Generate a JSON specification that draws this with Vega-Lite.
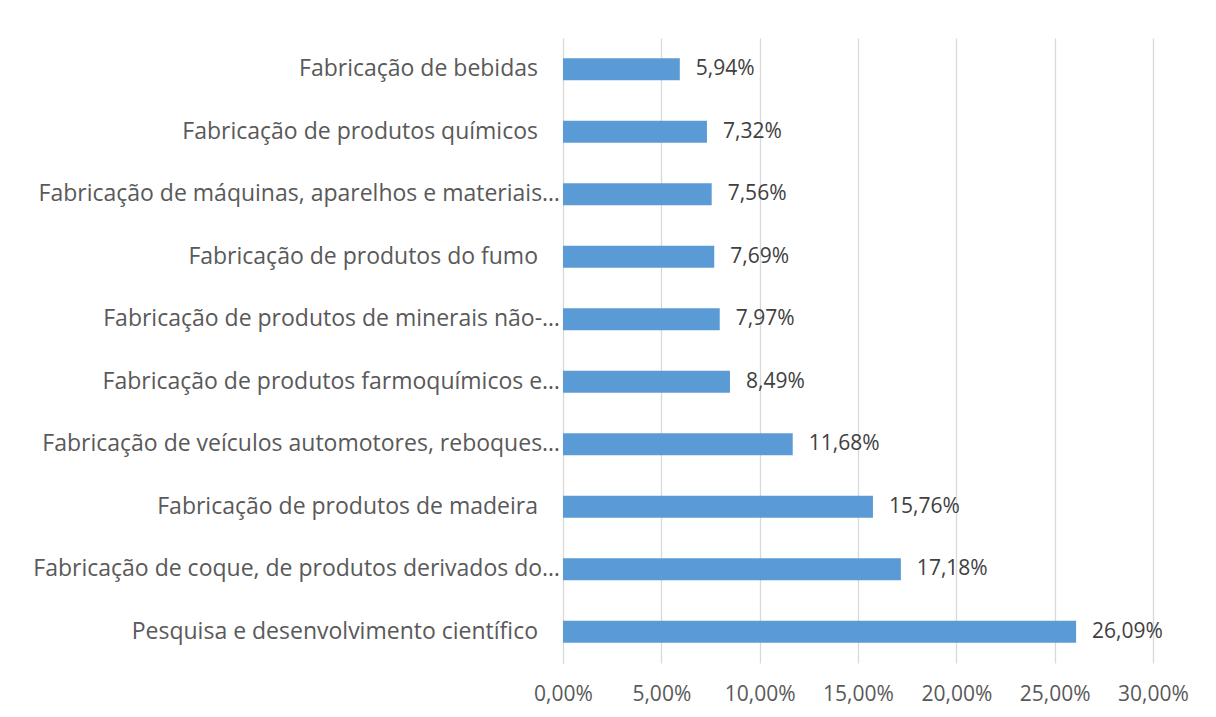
{
  "$schema": "https://vega.github.io/schema/vega-lite/v6.json",
  "width": 590,
  "height": 625,
  "autosize": {"type": "none"},
  "padding": {"left": 563, "top": 38, "right": 63, "bottom": 54},
  "background": "white",
  "config": {
    "locale": {"number": {"decimal": ",", "thousands": ".", "grouping": [3], "currency": ["R$", ""]}},
    "view": {"stroke": null},
    "font": "Open Sans"
  },
  "data": {
    "values": [
      {"setor": "Fabricação de bebidas", "valor": 0.0594},
      {"setor": "Fabricação de produtos químicos", "valor": 0.0732},
      {"setor": "Fabricação de máquinas, aparelhos e materiais…", "valor": 0.0756},
      {"setor": "Fabricação de produtos do fumo", "valor": 0.0769},
      {"setor": "Fabricação de produtos de minerais não-…", "valor": 0.0797},
      {"setor": "Fabricação de produtos farmoquímicos e…", "valor": 0.0849},
      {"setor": "Fabricação de veículos automotores, reboques…", "valor": 0.1168},
      {"setor": "Fabricação de produtos de madeira", "valor": 0.1576},
      {"setor": "Fabricação de coque, de produtos derivados do…", "valor": 0.1718},
      {"setor": "Pesquisa e desenvolvimento científico", "valor": 0.2609}
    ]
  },
  "encoding": {
    "y": {
      "field": "setor",
      "type": "nominal",
      "sort": null,
      "scale": {"paddingInner": 0.65, "paddingOuter": 0.325},
      "axis": {
        "title": null,
        "ticks": false,
        "labels": false,
        "domain": true,
        "domainColor": "#D9D9D9",
        "domainWidth": 1
      }
    }
  },
  "layer": [
    {
      "mark": {"type": "bar", "color": "#5B9BD5"},
      "encoding": {
        "x": {
          "field": "valor",
          "type": "quantitative",
          "scale": {"domain": [0, 0.3], "nice": false},
          "axis": {
            "title": null,
            "format": ".2%",
            "values": [0, 0.05, 0.1, 0.15, 0.2, 0.25, 0.3],
            "ticks": false,
            "domain": false,
            "grid": true,
            "gridColor": "#D9D9D9",
            "gridWidth": 1.3,
            "labelFlush": false,
            "labelFont": "Open Sans",
            "labelFontSize": 21,
            "labelColor": "#595959",
            "labelPadding": 20
          }
        }
      }
    },
    {
      "mark": {"type": "text", "align": "left", "baseline": "middle", "dx": 16, "font": "Open Sans", "fontSize": 21, "color": "#404040"},
      "encoding": {
        "x": {"field": "valor", "type": "quantitative"},
        "text": {"field": "valor", "type": "quantitative", "format": ".2%"}
      }
    },
    {
      "transform": [{"filter": {"field": "setor", "oneOf": [
        "Fabricação de máquinas, aparelhos e materiais…",
        "Fabricação de produtos de minerais não-…",
        "Fabricação de produtos farmoquímicos e…",
        "Fabricação de veículos automotores, reboques…",
        "Fabricação de coque, de produtos derivados do…"
      ]}}],
      "mark": {"type": "text", "align": "right", "baseline": "middle", "dx": -3, "font": "Open Sans", "fontSize": 23, "color": "#595959"},
      "encoding": {
        "x": {"datum": 0, "type": "quantitative"},
        "text": {"field": "setor", "type": "nominal"}
      }
    },
    {
      "transform": [{"filter": {"field": "setor", "oneOf": [
        "Fabricação de bebidas",
        "Fabricação de produtos químicos",
        "Fabricação de produtos do fumo",
        "Fabricação de produtos de madeira",
        "Pesquisa e desenvolvimento científico"
      ]}}],
      "mark": {"type": "text", "align": "right", "baseline": "middle", "dx": -25, "font": "Open Sans", "fontSize": 23, "color": "#595959"},
      "encoding": {
        "x": {"datum": 0, "type": "quantitative"},
        "text": {"field": "setor", "type": "nominal"}
      }
    }
  ]
}
